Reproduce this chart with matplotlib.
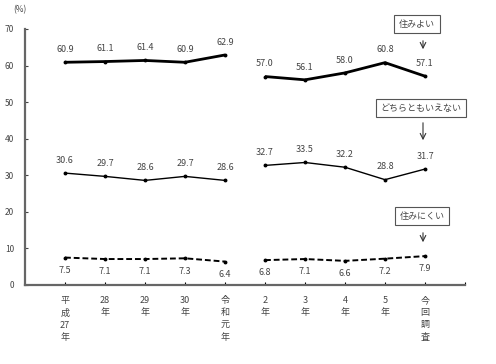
import matplotlib
matplotlib.use("Agg")
import matplotlib.pyplot as plt

plt.rcParams['font.family'] = ['Noto Sans CJK JP', 'DejaVu Sans']

# ----------------------------
# Daten
# ----------------------------
categories = ["平\n成\n27\n年", "28\n年", "29\n年", "30\n年", "令\n和\n元\n年",
              "2\n年", "3\n年", "4\n年", "5\n年", "今\n回\n調\n査"]
sumiyoi = [60.9, 61.1, 61.4, 60.9, 62.9, 57.0, 56.1, 58.0, 60.8, 57.1]
dochira = [30.6, 29.7, 28.6, 29.7, 28.6, 32.7, 33.5, 32.2, 28.8, 31.7]
sumunikui = [7.5, 7.1, 7.1, 7.3, 6.4, 6.8, 7.1, 6.6, 7.2, 7.9]
series_names = ["住みよい", "どちらともいえない", "住みにくい"]
BREAK = 5  # Linie unterbrochen zwischen 令和元年 und 2年

TXT = "#444444"

fig = plt.figure(figsize=(4.96, 3.64), dpi=100)
ax = fig.add_axes([25 / 496, 1 - 285 / 364, 440 / 496, 256 / 364])

x = list(range(len(categories)))

def draw(vals, lw, ls, offset, va):
    for seg in (slice(0, BREAK), slice(BREAK, len(vals))):
        ax.plot(x[seg], vals[seg], color="black", linewidth=lw, linestyle=ls,
                marker="o", markersize=1.8, solid_capstyle="butt")
    for xi, v in zip(x, vals):
        ax.annotate(f"{v:.1f}", (xi, v), xytext=(0, offset), textcoords="offset points",
                    ha="center", va=va, fontsize=6.5, color=TXT)

draw(sumiyoi, 2.0, "-", 6, "bottom")
draw(dochira, 1.0, "-", 6, "bottom")
draw(sumunikui, 1.4, (0, (3, 1.5)), -6, "top")

# Achsen
ax.set_xlim(-1, 10)
ax.set_ylim(0, 70)
ax.set_yticks(range(0, 71, 10))
ax.set_xticks(list(range(0, 10)) + [10])
ax.set_xticklabels(categories + [""], fontsize=6.5, color=TXT, linespacing=1.45, va="top")
ax.tick_params(axis="y", direction="in", length=2, labelsize=6, colors=TXT, pad=8)
ax.tick_params(axis="x", direction="in", length=2, pad=8)
for s in ("top", "right"):
    ax.spines[s].set_visible(False)
for s in ("left", "bottom"):
    ax.spines[s].set_color("#666666")
    ax.spines[s].set_linewidth(1.6)

fig.text(13 / 496, 1 - 10 / 364, "(%)", fontsize=6, color=TXT, ha="left", va="center")

# Beschriftungskästen mit Pfeilen
boxes = [(series_names[0], 417, 24, 38, 52),
         (series_names[1], 421, 108, 120, 143),
         (series_names[2], 422, 216, 230, 245)]
for name, bx, by, ay0, ay1 in boxes:
    fig.text(bx / 496, 1 - by / 364, name, fontsize=6.5, color=TXT, ha="center", va="center",
             bbox=dict(boxstyle="square,pad=0.5", fc="white", ec="#555555", lw=0.8))
    ax.annotate("", xy=(423 / 496, 1 - ay1 / 364), xytext=(423 / 496, 1 - ay0 / 364),
                xycoords="figure fraction", textcoords="figure fraction",
                arrowprops=dict(arrowstyle="->", color="#333333", lw=0.8))

plt.savefig("out.png", dpi=100)
